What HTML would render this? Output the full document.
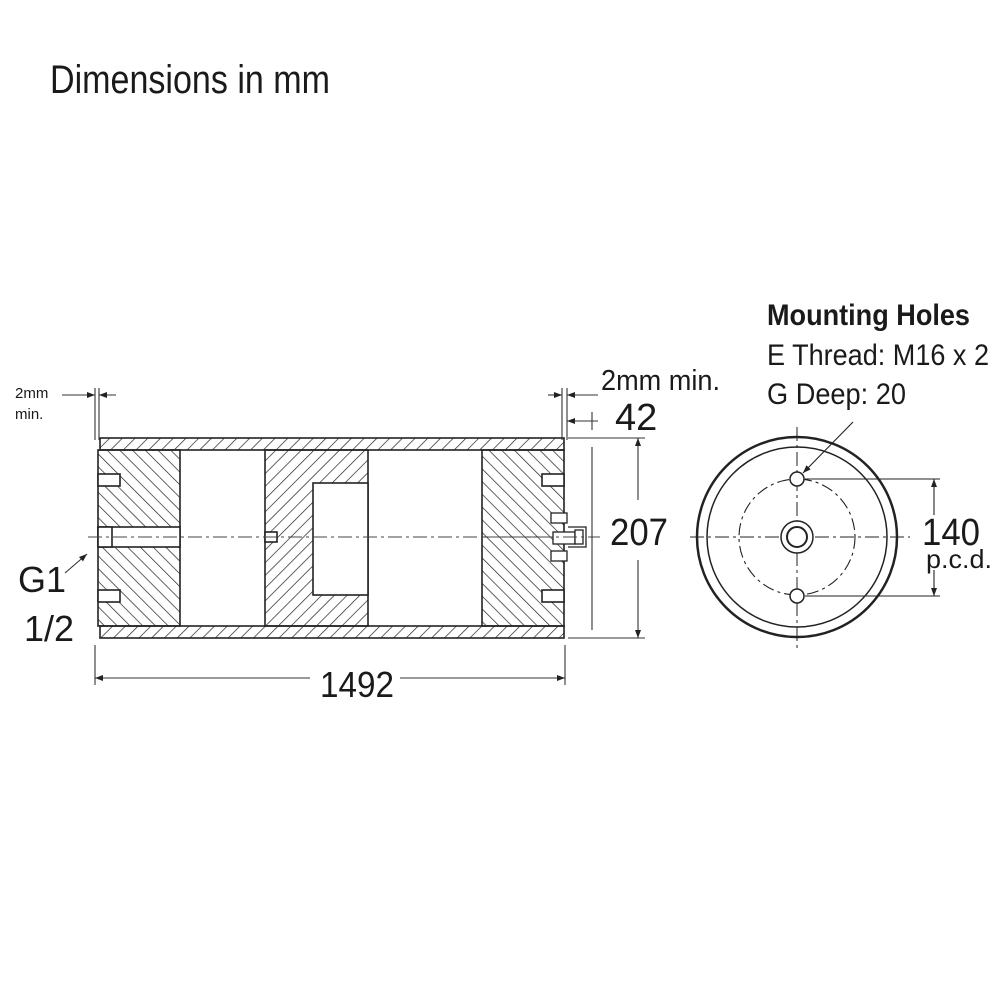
<!DOCTYPE html>
<html><head><meta charset="utf-8"><style>
html,body{margin:0;padding:0;background:#fff}
svg{display:block}
text{font-family:"Liberation Sans",sans-serif;fill:#1a1a1a}
</style></head><body>
<svg width="1000" height="1000" viewBox="0 0 1000 1000" xmlns="http://www.w3.org/2000/svg">
<defs>
<pattern id="hf" width="9" height="9" patternUnits="userSpaceOnUse" patternTransform="rotate(45)">
<line x1="0" y1="0" x2="0" y2="9" stroke="#222" stroke-width="1.4"/></pattern>
<pattern id="hb" width="9" height="9" patternUnits="userSpaceOnUse" patternTransform="rotate(-45)">
<line x1="0" y1="0" x2="0" y2="9" stroke="#222" stroke-width="1.4"/></pattern>
<marker id="ar" markerWidth="8" markerHeight="6" refX="8" refY="3" orient="auto" markerUnits="userSpaceOnUse"><path d="M0,0 L8,3 L0,6 z" fill="#222"/></marker>
</defs>

<text x="50" y="93" font-size="40" textLength="280" lengthAdjust="spacingAndGlyphs">Dimensions in mm</text>

<g stroke="#222" stroke-width="1.6">
<rect x="100" y="438" width="464" height="12" fill="url(#hf)"/>
<rect x="100" y="626" width="464" height="12" fill="url(#hf)"/>
<rect x="98" y="450" width="82" height="176" fill="url(#hb)"/>
<rect x="98" y="527" width="82" height="20" fill="#fff"/>
<rect x="98" y="527" width="14" height="20" fill="#fff"/>
<rect x="98" y="474" width="22" height="12" fill="#fff"/>
<rect x="98" y="590" width="22" height="12" fill="#fff"/>
<rect x="265" y="450" width="103" height="176" fill="url(#hf)"/>
<rect x="313" y="483" width="55" height="112" fill="#fff"/>
<rect x="265" y="532" width="12" height="10" fill="#fff"/>
<rect x="482" y="450" width="82" height="176" fill="url(#hb)"/>
<rect x="542" y="474" width="22" height="12" fill="#fff"/>
<rect x="542" y="590" width="22" height="12" fill="#fff"/>
</g>
<g stroke="#222" stroke-width="1.3" fill="#fff">
<rect x="551" y="513" width="16" height="10"/>
<rect x="551" y="551" width="16" height="10"/>
<rect x="553" y="532" width="22" height="12"/>
<path d="M568,527 h18 v20 h-18" fill="none"/>
<rect x="575" y="530" width="8" height="14"/>
</g>
<line x1="482" y1="537" x2="553" y2="537" stroke="#333" stroke-width="1"/>

<line x1="88" y1="537" x2="600" y2="537" stroke="#444" stroke-width="1" stroke-dasharray="14,4,3,4"/>

<g stroke="#333" stroke-width="1.1" fill="none">
<line x1="95" y1="388" x2="95" y2="440"/>
<line x1="99" y1="388" x2="99" y2="440"/>
<line x1="62" y1="395" x2="95" y2="395" marker-end="url(#ar)"/>
<line x1="116" y1="395" x2="99" y2="395" marker-end="url(#ar)"/>
<line x1="65" y1="573" x2="87" y2="554" marker-end="url(#ar)"/>
<line x1="95" y1="645" x2="95" y2="685"/>
<line x1="565" y1="645" x2="565" y2="685"/>
<line x1="310" y1="678" x2="95" y2="678" marker-end="url(#ar)"/>
<line x1="400" y1="678" x2="565" y2="678" marker-end="url(#ar)"/>
<line x1="562" y1="388" x2="562" y2="440"/>
<line x1="567" y1="388" x2="567" y2="440"/>
<line x1="548" y1="395" x2="562" y2="395" marker-end="url(#ar)"/>
<line x1="598" y1="395" x2="567" y2="395" marker-end="url(#ar)"/>
<line x1="598" y1="421" x2="567" y2="421" marker-end="url(#ar)"/>
<line x1="592" y1="412" x2="592" y2="430"/>
<line x1="592" y1="447" x2="592" y2="630"/>
<line x1="568" y1="438" x2="645" y2="438"/>
<line x1="568" y1="638" x2="645" y2="638"/>
<line x1="638" y1="500" x2="638" y2="438" marker-end="url(#ar)"/>
<line x1="638" y1="560" x2="638" y2="638" marker-end="url(#ar)"/>
</g>
<text x="15" y="398" font-size="15">2mm</text>
<text x="15" y="419" font-size="15">min.</text>
<text x="18" y="592" font-size="36">G1</text>
<text x="24" y="641" font-size="36">1/2</text>
<text x="320" y="697" font-size="36" textLength="74" lengthAdjust="spacingAndGlyphs">1492</text>
<text x="601" y="390" font-size="29" textLength="119" lengthAdjust="spacingAndGlyphs">2mm min.</text>
<text x="615" y="430" font-size="38">42</text>
<text x="610" y="545" font-size="38" textLength="58" lengthAdjust="spacingAndGlyphs">207</text>

<text x="767" y="325" font-size="30" font-weight="bold" textLength="203" lengthAdjust="spacingAndGlyphs">Mounting Holes</text>
<text x="767" y="365" font-size="30" textLength="222" lengthAdjust="spacingAndGlyphs">E Thread: M16 x 2</text>
<text x="767" y="404" font-size="30" textLength="139" lengthAdjust="spacingAndGlyphs">G Deep: 20</text>

<g fill="none" stroke="#222">
<circle cx="797" cy="537" r="100" stroke-width="2.5"/>
<circle cx="797" cy="537" r="90" stroke-width="1.5"/>
<circle cx="797" cy="537" r="58" stroke-width="1.1" stroke-dasharray="12,4,3,4"/>
<line x1="690" y1="537" x2="910" y2="537" stroke-width="1" stroke-dasharray="14,4,3,4"/>
<line x1="797" y1="427" x2="797" y2="648" stroke-width="1" stroke-dasharray="14,4,3,4"/>
<circle cx="797" cy="537" r="16" stroke-width="1.5" fill="#fff"/>
<circle cx="797" cy="537" r="10" stroke-width="2" fill="#fff"/>
<circle cx="797" cy="479" r="7" stroke-width="1.5" fill="#fff"/>
<circle cx="797" cy="596" r="7" stroke-width="1.5" fill="#fff"/>
<line x1="805" y1="479" x2="940" y2="479" stroke-width="1.1"/>
<line x1="805" y1="596" x2="940" y2="596" stroke-width="1.1"/>
<line x1="934" y1="515" x2="934" y2="479" stroke-width="1.1" marker-end="url(#ar)"/>
<line x1="934" y1="570" x2="934" y2="596" stroke-width="1.1" marker-end="url(#ar)"/>
<line x1="853" y1="422" x2="803" y2="473" stroke-width="1.1" marker-end="url(#ar)"/>
</g>
<text x="922" y="545" font-size="38" textLength="58" lengthAdjust="spacingAndGlyphs">140</text>
<text x="926" y="568" font-size="26" textLength="66" lengthAdjust="spacingAndGlyphs">p.c.d.</text>
</svg>
</body></html>
